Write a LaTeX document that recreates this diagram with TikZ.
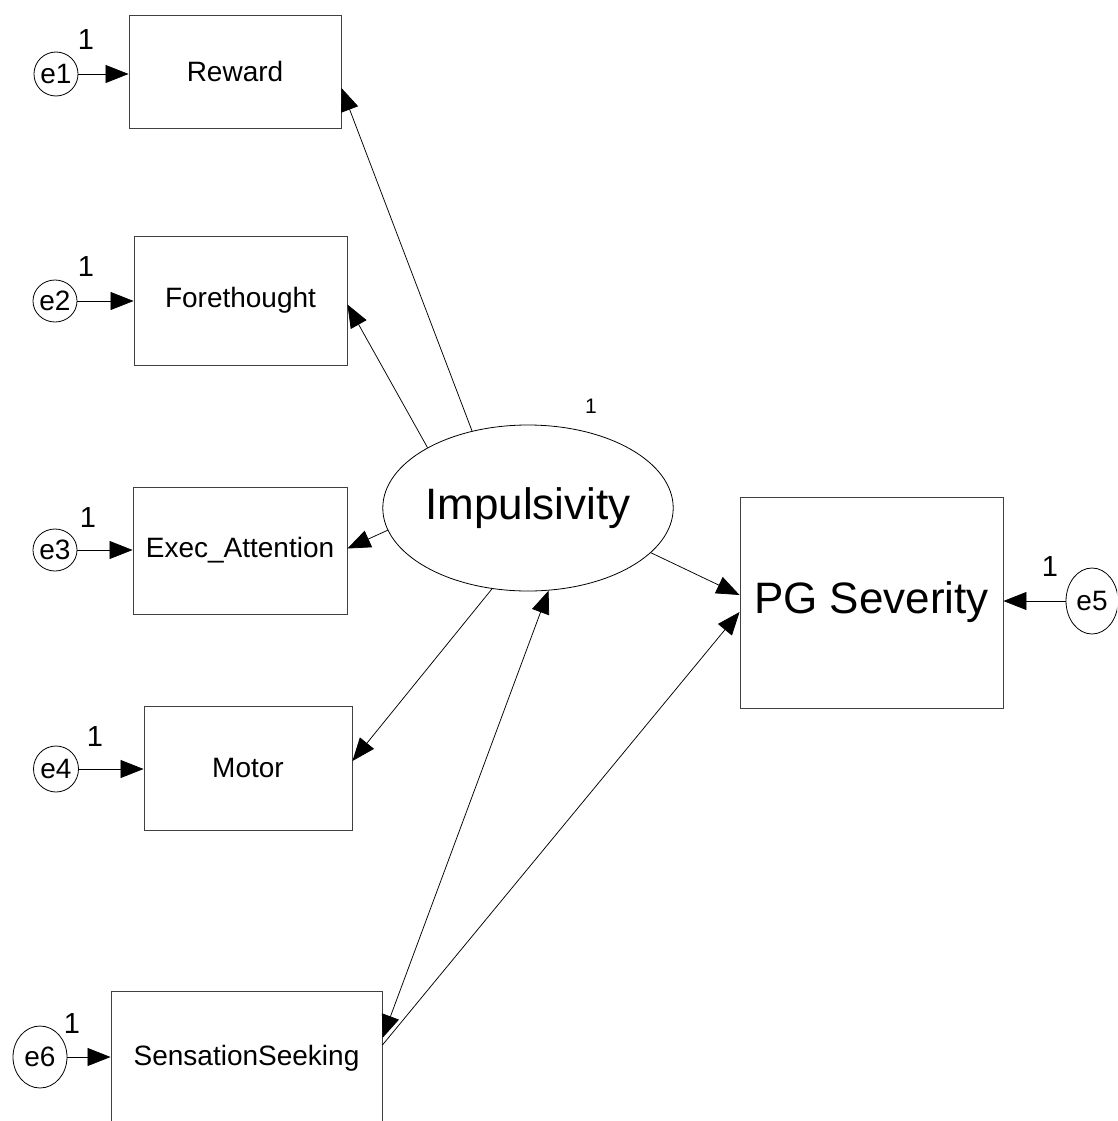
\documentclass[tikz,border=0pt]{standalone}
\usepackage{fontspec}
\setmainfont{Liberation Sans}
\usetikzlibrary{arrows.meta,shapes.geometric}
\begin{document}
\begin{tikzpicture}[x=1pt,y=-1pt,
  box/.style={draw=black!75, line width=0.9pt, rectangle, inner sep=0pt, font=\fontsize{28}{28}\selectfont},
  err/.style={draw=black, line width=0.8pt, ellipse, inner sep=0pt, font=\fontsize{28}{28}\selectfont},
  arr/.style={line width=0.75pt, -{Triangle[length=23pt,width=18pt]}},
  darr/.style={line width=0.75pt, {Triangle[length=23pt,width=18pt]}-{Triangle[length=23pt,width=18pt]}},
  one/.style={font=\fontsize{29}{29}\selectfont, inner sep=0pt},
  big/.style={font=\fontsize{44}{44}\selectfont}
]
\clip (0,0) rectangle (1117,1121);
\fill[white] (0,0) rectangle (1117,1121);

% observed variables
\node[box, minimum width=212pt, minimum height=113pt] (reward) at (235,71.5) {Reward};
\node[box, minimum width=213pt, minimum height=129pt] (fore) at (240.5,300.5) {Forethought};
\node[box, minimum width=214pt, minimum height=127pt] (exec) at (240,550.5) {Exec\_Attention};
\node[box, minimum width=208pt, minimum height=124pt] (motor) at (248,768) {Motor};
\node[box, minimum width=271pt, minimum height=134pt] (ss) at (246.5,1058) {SensationSeeking};
\node[box, big, minimum width=263pt, minimum height=211pt] (pg) at (871.5,602.5) {PG Severity};

% latent
\node[draw=black, line width=0.8pt, ellipse, inner sep=0pt, big, minimum width=290pt, minimum height=166pt] (imp) at (528,508) {Impulsivity};
\node[inner sep=0pt, font=\fontsize{21}{21}\selectfont] (impone) at (591,406) {1};

% error terms
\node[err, minimum width=44pt, minimum height=44pt] (e1) at (56,74) {e1};
\node[err, minimum width=44pt, minimum height=42pt] (e2) at (55,301) {e2};
\node[err, minimum width=44pt, minimum height=42pt] (e3) at (55,550) {e3};
\node[err, minimum width=45pt, minimum height=46pt] (e4) at (56,769) {e4};
\node[err, minimum width=54pt, minimum height=62pt] (e6) at (40,1057) {e6};
\node[err, minimum width=52pt, minimum height=66pt] (e5) at (1092,601) {e5};

\node[one] (l1) at (86,40) {1};
\node[one] (l2) at (86,267) {1};
\node[one] (l3) at (88,518) {1};
\node[one] (l4) at (95,737) {1};
\node[one] (l6) at (72,1024) {1};
\node[one] (l5) at (1050,567) {1};

% error arrows
\draw[arr] (e1.east) -- (e1.east -| reward.west);
\draw[arr] (e2.east) -- (e2.east -| fore.west);
\draw[arr] (e3.east) -- (e3.east -| exec.west);
\draw[arr] (e4.east) -- (e4.east -| motor.west);
\draw[arr] (e6.east) -- (e6.east -| ss.west);
\draw[arr] (e5.west) -- (e5.west -| pg.east);

% loadings
\draw[arr] (imp.126) -- ([yshift=-16.5pt]reward.east);
\draw[arr] (imp.149) -- ([yshift=-4pt]fore.east);
\draw[arr] (imp.189) -- ([yshift=2pt]exec.east);
\draw[arr] (imp.246) -- ([yshift=7pt]motor.east);
\draw[darr] ([yshift=20pt]ss.east) -- (imp.-76);

% structural paths
\draw[arr] (imp.-20) -- ([yshift=7.5pt]pg.west);
\draw[arr] ([yshift=13pt]ss.east) -- ([yshift=-9.5pt]pg.west);
\end{tikzpicture}
\end{document}
